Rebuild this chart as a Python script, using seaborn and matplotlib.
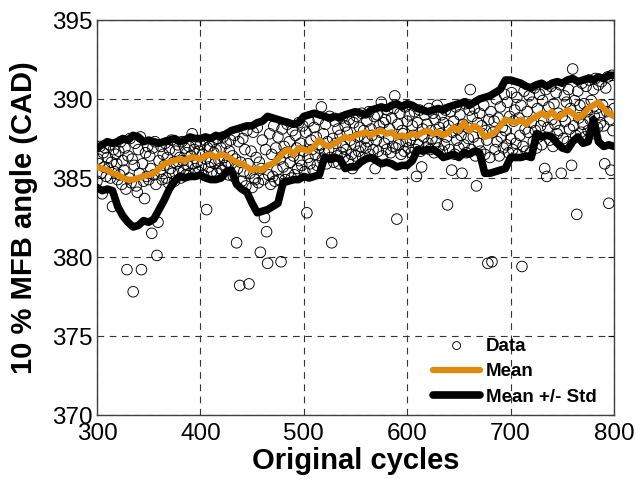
import numpy as np
import matplotlib
matplotlib.use("Agg")
import matplotlib.pyplot as plt
import pandas as pd
import seaborn as sns

# 10 % MFB angle per cycle, cycles 300..800
mfb10 = [
    384.8, 386.2, 385.9, 387.0, 385.3, 384.0, 386.6, 385.7, 386.9, 385.1,
    386.3, 385.6, 387.1, 385.0, 386.0, 383.2, 386.8, 385.4, 386.5, 385.9,
    384.9, 386.7, 385.2, 387.3, 384.6, 386.1, 385.5, 386.9, 384.3, 379.2,
    386.4, 385.0, 387.5, 384.7, 386.2, 377.8, 385.8, 387.2, 384.5, 384.1,
    386.8, 385.3, 387.6, 379.2, 385.9, 384.8, 383.7, 386.6, 385.1, 387.0,
    384.9, 386.4, 385.6, 381.5, 386.9, 385.2, 387.3, 384.6, 380.1, 382.2,
    386.1, 385.4, 387.0, 384.9, 386.5, 385.8, 387.2, 385.0, 386.3, 384.7,
    386.8, 385.6, 387.4, 385.3, 386.0, 384.8, 386.7, 385.9, 387.1, 385.4,
    386.3, 385.0, 387.3, 386.1, 385.5, 386.9, 385.2, 386.6, 385.8, 387.0,
    385.3, 386.4, 387.8, 385.9, 386.8, 385.6, 387.2, 386.0, 385.4, 386.7,
    387.1, 385.8, 386.5, 385.2, 387.4, 386.2, 383.0, 386.9, 385.7, 387.0,
    386.0, 385.4, 387.3, 386.6, 385.9, 386.8, 385.3, 387.5, 386.1, 385.6,
    386.9, 385.5, 387.6, 386.3, 385.8, 387.2, 386.0, 385.2, 386.7, 387.4,
    385.9, 386.4, 385.1, 387.7, 386.2, 380.9, 385.6, 387.3, 378.2, 386.0,
    384.8, 387.5, 385.4, 386.8, 384.5, 388.0, 385.9, 378.3, 385.3, 386.7,
    384.4, 387.9, 385.0, 384.9, 386.3, 388.2, 384.7, 386.0, 380.3, 385.6,
    387.4, 384.9, 382.5, 386.8, 381.6, 379.6, 385.2, 387.8, 384.6, 386.5,
    385.1, 388.3, 384.8, 386.9, 385.5, 387.6, 384.9, 386.2, 379.7, 388.1,
    385.7, 387.0, 384.9, 386.6, 388.4, 385.3, 387.3, 386.0, 385.0, 388.0,
    386.4, 385.2, 387.7, 386.9, 385.6, 388.5, 386.1, 387.2, 385.8, 388.3,
    386.7, 385.4, 387.9, 382.8, 386.3, 388.6, 385.9, 387.4, 386.8, 385.5,
    388.2, 386.5, 387.6, 385.8, 388.7, 386.9, 387.1, 389.5, 386.2, 387.8,
    386.6, 388.4, 385.9, 387.3, 386.8, 388.9, 386.3, 380.9, 387.5, 386.0,
    388.6, 387.2, 386.4, 388.1, 385.9, 387.7, 386.6, 388.8, 387.0, 386.3,
    388.3, 386.8, 387.9, 386.1, 388.7, 387.4, 386.5, 385.6, 388.5, 387.1,
    386.4, 388.9, 387.6, 386.7, 388.2, 387.0, 389.1, 386.3, 388.0, 387.5,
    386.9, 388.6, 387.3, 389.2, 386.5, 388.1, 387.7, 386.8, 388.9, 385.6,
    387.4, 389.0, 386.7, 388.3, 387.9, 389.8, 386.4, 388.5, 387.2, 388.7,
    386.8, 389.3, 387.5, 388.1, 386.6, 388.8, 387.0, 389.4, 390.2, 386.9,
    382.4, 388.4, 387.1, 389.1, 386.5, 388.0, 387.8, 386.7, 389.5, 387.3,
    388.6, 386.9, 389.0, 387.4, 386.6, 388.3, 387.7, 389.2, 386.8, 385.1,
    388.5, 387.1, 389.3, 386.7, 385.7, 388.1, 387.6, 389.0, 386.9, 388.4,
    387.2, 389.4, 386.8, 388.0, 387.5, 389.1, 386.6, 388.7, 387.3, 389.6,
    386.9, 388.2, 387.8, 389.0, 386.7, 388.5, 387.1, 389.3, 387.6, 383.3,
    388.3, 386.8, 389.2, 385.5, 387.9, 388.6, 386.5, 389.5, 387.4, 388.1,
    386.9, 389.0, 387.7, 385.3, 388.4, 387.1, 389.7, 386.6, 388.2, 387.5,
    389.3, 390.6, 386.8, 388.9, 387.6, 389.4, 386.4, 384.5, 388.5, 387.2,
    389.1, 386.7, 388.3, 387.8, 389.6, 386.5, 388.0, 387.4, 379.6, 388.7,
    386.3, 389.2, 379.7, 387.9, 388.6, 386.8, 390.0, 387.3, 388.8, 386.4,
    389.5, 387.6, 388.2, 386.9, 390.3, 388.0, 387.1, 389.8, 386.6, 388.9,
    387.5, 390.4, 386.8, 388.6, 389.3, 387.2, 390.1, 386.5, 388.8, 387.7,
    389.6, 379.4, 387.0, 390.5, 388.1, 386.7, 389.2, 387.9, 390.2, 386.6,
    388.5, 389.8, 387.3, 390.7, 388.0, 386.9, 389.4, 387.6, 390.3, 388.3,
    387.1, 389.9, 388.6, 385.6, 390.6, 385.1, 388.2, 389.5, 387.4, 390.8,
    388.7, 387.0, 389.7, 388.4, 390.4, 387.8, 389.1, 388.0, 390.9, 385.3,
    388.9, 387.5, 390.2, 388.6, 389.8, 387.3, 390.6, 388.1, 389.4, 385.8,
    391.9, 388.3, 389.9, 387.7, 382.7, 390.5, 388.8, 389.6, 387.9, 391.0,
    388.4, 389.7, 387.6, 390.8, 389.2, 388.0, 391.2, 388.7, 389.9, 387.8,
    390.6, 388.9, 391.3, 389.4, 388.2, 390.9, 389.0, 388.5, 391.1, 389.6,
    388.3, 385.9, 390.7, 389.2, 391.4, 383.4, 388.7, 385.5, 391.5, 388.0,
    389.4,
]
cycles = np.arange(300, 300 + len(mfb10))

# moving statistics, read every 5 cycles
stat_cycles = np.arange(300, 801, 5)
mean_vals = [
    385.7, 385.6, 385.5, 385.3, 385.2, 385.0, 384.9, 384.9, 385.0, 385.1,
    385.2, 385.3, 385.6, 385.9, 386.0, 386.1, 386.2, 386.1, 386.3, 386.3,
    386.2, 386.4, 386.5, 386.3, 386.5, 386.4, 386.2, 386.0, 385.9, 385.7,
    385.5, 385.6, 385.5, 385.8, 385.9, 386.2, 386.6, 386.8, 386.5, 386.9,
    386.8, 386.7, 387.0, 387.4, 387.1, 387.0, 387.2, 387.4, 387.6, 387.5,
    387.7, 387.8, 387.9, 387.7, 387.9, 388.0, 387.8, 387.9, 387.6, 387.7,
    387.6, 387.8, 387.7, 387.9, 388.0, 387.8, 387.9, 387.7, 387.9, 388.2,
    388.0, 388.5, 388.0, 388.3, 388.1, 387.6, 387.7, 387.9, 388.3, 388.7,
    388.6, 388.5, 388.7, 388.4, 388.7, 388.9, 389.1, 388.9, 389.2, 388.8,
    389.0, 389.3, 389.1, 388.8, 389.0, 389.4, 389.6, 389.8, 389.4, 389.1,
    388.9,
]
upper_vals = [
    386.9, 387.1, 387.3, 387.2, 387.3, 387.5, 387.4, 387.7, 387.6, 387.3,
    387.4, 387.3, 387.2, 387.3, 387.4, 387.5, 387.3, 387.4, 387.6, 387.5,
    387.5, 387.6, 387.5, 387.7, 387.6, 387.8, 388.0, 388.1, 388.2, 388.3,
    388.3, 388.5, 388.6, 388.9, 388.8, 388.7, 388.6, 388.5, 388.4, 388.5,
    388.9, 389.0, 389.1, 389.0, 388.9, 388.8, 388.9, 388.8, 389.0, 389.1,
    389.2, 389.1, 389.0, 389.3, 389.4, 389.5, 389.4, 389.6, 389.7, 389.5,
    389.7, 389.6, 389.4, 389.3, 389.2, 389.3, 389.4, 389.3, 389.5, 389.6,
    389.7, 389.8, 389.6, 389.8, 390.0, 390.1, 390.2, 390.4, 390.6, 391.2,
    391.2, 391.1, 391.0, 390.8, 390.7, 390.9, 391.0, 390.8, 391.0, 391.1,
    391.0, 391.2, 391.3, 391.1, 391.2, 391.3, 391.2, 391.4, 391.3, 391.5,
    391.5,
]
lower_vals = [
    384.4, 384.2, 384.3, 384.2, 383.2, 382.6, 382.2, 381.9, 382.0, 382.3,
    382.2, 382.4, 383.0, 383.6, 384.3, 384.8, 385.1, 385.0, 385.1, 385.1,
    385.2, 385.0, 384.9, 384.9, 385.0, 385.4, 385.5, 384.6, 384.3, 384.1,
    383.4, 382.8, 382.9, 383.0, 383.2, 383.4, 384.7, 384.8, 384.9, 384.9,
    385.1, 385.0, 385.1, 385.2, 386.3, 386.2, 386.3, 386.2, 385.6, 385.7,
    385.7, 386.0, 386.2, 386.3, 386.1, 385.9, 386.0, 385.9, 385.7, 385.8,
    385.8, 386.1, 386.8, 386.7, 386.8, 386.8, 386.6, 386.3, 386.4, 386.5,
    386.3, 386.6, 386.5, 386.7, 386.6, 385.3, 385.3, 385.4, 385.5, 385.6,
    386.3, 386.3, 386.3, 386.4, 386.3, 387.8, 387.6, 387.7, 387.6, 387.2,
    386.9, 386.8, 387.3, 387.6, 387.2, 387.3, 388.7, 387.3, 387.0, 387.1,
    387.0,
]

data = pd.DataFrame({"cycle": cycles, "mfb": mfb10})
stats = pd.DataFrame({"cycle": stat_cycles, "mean": mean_vals,
                      "upper": upper_vals, "lower": lower_vals})

sns.set_style("white")
plt.rcParams["font.family"] = ["Liberation Sans", "DejaVu Sans"]
plt.rcParams["text.color"] = "black"
plt.rcParams["axes.labelcolor"] = "black"

fig = plt.figure(figsize=(6.36, 4.79), dpi=100)
ax = fig.add_axes([0.1525, 0.1336, 0.8129, 0.8246])

sns.scatterplot(data=data, x="cycle", y="mfb", ax=ax, marker="o",
                s=58, facecolor="none", edgecolor="black", linewidth=0.65,
                label="Data", zorder=3)
sns.lineplot(data=stats, x="cycle", y="mean", ax=ax, color="#DF8A0A",
             linewidth=4.5, label="Mean", zorder=5)
sns.lineplot(data=stats, x="cycle", y="upper", ax=ax, color="black",
             linewidth=5.5, label="Mean +/- Std", zorder=4)
sns.lineplot(data=stats, x="cycle", y="lower", ax=ax, color="black",
             linewidth=5.5, legend=False, zorder=4)

ax.set_xlim(300, 800)
ax.set_ylim(370, 395)
ax.set_xticks([300, 400, 500, 600, 700, 800])
ax.set_yticks([370, 375, 380, 385, 390, 395])
ax.grid(True, color="0.2", linestyle=(0, (6, 5)), linewidth=0.8)
ax.tick_params(axis="both", direction="in", labelsize=17.5, length=4,
               top=True, right=True, colors="black")
ax.tick_params(axis="x", pad=6)
ax.tick_params(axis="y", pad=3)
for s in ax.spines.values():
    s.set_color("0.25")
    s.set_linewidth(1.0)

ax.set_xlabel("Original cycles", fontsize=21, fontweight="bold", labelpad=1)
ax.set_ylabel("10 % MFB angle (CAD)", fontsize=21, fontweight="bold", labelpad=10)

ax.legend(loc="lower right", bbox_to_anchor=(0.985, 0.0), frameon=False,
          prop={"weight": "bold", "size": 13.5}, handlelength=2.55,
          labelspacing=0.45, handletextpad=0.3, markerscale=0.75,
          borderaxespad=0.1)

fig.savefig("out.png", dpi=100)
